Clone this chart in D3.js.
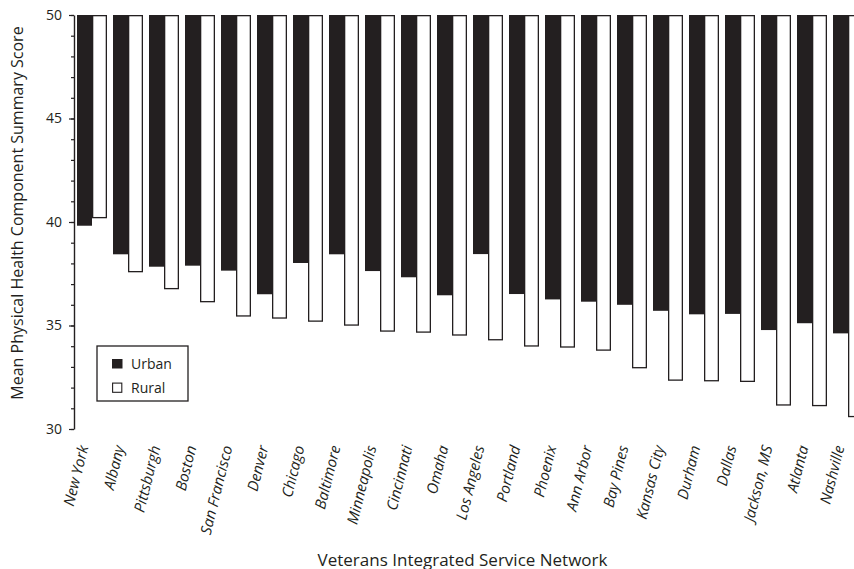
<!DOCTYPE html>
<html>
<head>
<meta charset="utf-8">
<script src="https://cdn.jsdelivr.net/npm/d3@7"></script>
<style>
  html, body { margin: 0; padding: 0; background: #fff; }
  svg { display: block; }
  text { font-family: "Open Sans", "DejaVu Sans", sans-serif; fill: #231f20; }
</style>
</head>
<body>
<svg id="chart" width="854" height="569"></svg>
<script>
const categories = ["New York","Albany","Pittsburgh","Boston","San Francisco","Denver","Chicago","Baltimore","Minneapolis","Cincinnati","Omaha","Los Angeles","Portland","Phoenix","Ann Arbor","Bay Pines","Kansas City","Durham","Dallas","Jackson, MS","Atlanta","Nashville"];
const urban = [39.82,38.44,37.84,37.89,37.65,36.51,38.02,38.44,37.63,37.33,36.46,38.45,36.52,36.26,36.15,36.00,35.71,35.54,35.56,34.78,35.11,34.62];
const rural = [40.18,37.57,36.75,36.12,35.43,35.33,35.18,34.99,34.70,34.65,34.51,34.28,33.98,33.93,33.78,32.93,32.33,32.30,32.27,31.13,31.10,30.57];
const seriesNames = ["Urban","Rural"];
const majorTicks = [30,35,40,45,50];
const minorTicks = d3.range(30, 51, 1);
const yTitle = "Mean Physical Health Component Summary Score";
const xTitle = "Veterans Integrated Service Network";

const ink = "#231f20";
const svg = d3.select("#chart");

const y = d3.scaleLinear().domain([30, 50]).range([429, 15]);
const x0 = d3.scaleBand().domain(categories).range([77, 863]).paddingInner(6/36).paddingOuter(0);
const x1 = d3.scaleBand().domain(seriesNames).range([0, x0.bandwidth()]).padding(0);

const rows = categories.map((c, i) => ({cat: c, vals: [{s: "Urban", v: urban[i]}, {s: "Rural", v: rural[i]}]}));

const groups = svg.append("g").selectAll("g").data(rows).join("g")
  .attr("transform", d => `translate(${x0(d.cat)},0)`);

groups.selectAll("rect").data(d => d.vals).join("rect")
  .attr("x", d => x1(d.s) + (d.s === "Rural" ? 0.65 : 0))
  .attr("y", d => y(50) + (d.s === "Rural" ? 0.65 : 0))
  .attr("width", d => x1.bandwidth() - (d.s === "Rural" ? 1.3 : 0))
  .attr("height", d => y(d.v) - y(50) - (d.s === "Rural" ? 1.3 : 0))
  .attr("fill", d => d.s === "Urban" ? ink : "#fff")
  .attr("stroke", d => d.s === "Urban" ? "none" : ink)
  .attr("stroke-width", 1.3);

// Y axis minor ticks
const minorAxis = svg.append("g").attr("transform", "translate(74,0)")
  .call(d3.axisLeft(y).tickValues(minorTicks).tickSize(3).tickSizeOuter(0).tickFormat(""));
minorAxis.selectAll("line").attr("stroke", ink).attr("stroke-width", 1.2);
minorAxis.select(".domain").attr("stroke", ink).attr("stroke-width", 1.4);

// Y axis major ticks + labels
const majorAxis = svg.append("g").attr("transform", "translate(74,0)")
  .call(d3.axisLeft(y).tickValues(majorTicks).tickSize(5).tickSizeOuter(0).tickPadding(7).tickFormat(d3.format("d")));
majorAxis.select(".domain").remove();
majorAxis.selectAll("line").attr("stroke", ink).attr("stroke-width", 1.2);
majorAxis.selectAll("text").attr("font-size", 14).attr("font-family", "'Open Sans', sans-serif").attr("fill", ink);

// X category labels
svg.append("g").selectAll("text").data(categories).join("text")
  .attr("transform", d => `translate(${x0(d) + x0.bandwidth()/2 - 3.5},447) rotate(-76)`)
  .attr("text-anchor", "end")
  .attr("font-size", 15)
  .attr("font-style", "italic")
  .text(d => d);

// Axis titles
svg.append("text")
  .attr("transform", "translate(23,213) rotate(-90)")
  .attr("text-anchor", "middle")
  .attr("font-size", 16)
  .text(yTitle);

svg.append("text")
  .attr("x", 462.5).attr("y", 565.5)
  .attr("text-anchor", "middle")
  .attr("font-size", 17)
  .text(xTitle);

// Legend
const lg = svg.append("g");
lg.append("rect").attr("x", 97).attr("y", 346).attr("width", 91).attr("height", 55)
  .attr("fill", "#fff").attr("stroke", ink).attr("stroke-width", 1.3);
const items = lg.selectAll("g.item").data(seriesNames).join("g").attr("class", "item")
  .attr("transform", (d, i) => `translate(0,${i * 23.5})`);
items.append("rect")
  .attr("x", d => d === "Urban" ? 112 : 112.6)
  .attr("y", d => d === "Urban" ? 359 : 359.6)
  .attr("width", d => d === "Urban" ? 10.5 : 9.2)
  .attr("height", d => d === "Urban" ? 9.5 : 9.2)
  .attr("fill", d => d === "Urban" ? ink : "#fff")
  .attr("stroke", d => d === "Urban" ? "none" : ink)
  .attr("stroke-width", 1.1);
items.append("text").attr("x", 131).attr("y", 369).attr("font-size", 14).text(d => d);
</script>
</body>
</html>
